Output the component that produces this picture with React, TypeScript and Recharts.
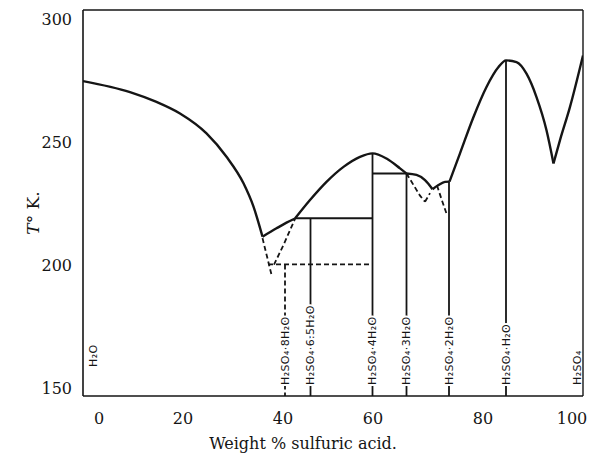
import React from 'react';
import { ComposedChart, Line, XAxis, YAxis, Scatter, ReferenceLine } from 'recharts';

// Axis ticks and domains
const X_TICKS = [0, 20, 40, 60, 80, 100];
const Y_TICKS = [150, 200, 250, 300];
const X_DOMAIN: [number, number] = [0, 100];
const Y_DOMAIN: [number, number] = [147, 304];

// Solid liquidus curves [weight %, T K]
const iceCurve = [[0, 275.1], [9.4, 270.6], [14.7, 266.6], [19.4, 261.9], [24.7, 253.8], [28.7, 244.3], [32.1, 233.5], [34.1, 224.0], [35.9, 211.8]];
const hexaCurve = [[35.9, 211.8], [38.7, 215.2], [40.7, 217.5], [42.4, 219.2]];
const tetraCurve = [[42.4, 219.2], [45.4, 226.7], [48.7, 234.1], [52.1, 240.2], [55.4, 244.3], [57.9, 245.7], [60.7, 243.6], [63.4, 239.6], [64.7, 237.5]];
const triCurve = [[64.7, 237.5], [66.7, 236.9], [68.4, 234.8], [69.9, 231.1]];
const diCurve = [[69.9, 231.1], [71.1, 232.8], [72.4, 234.1], [73.3, 234.2]];
const monoCurve = [[73.3, 234.2], [75.4, 245.7], [78.1, 260.5], [80.7, 272.7], [83.1, 280.8], [84.6, 283.5], [86.7, 282.8], [88.7, 278.1], [90.7, 268.6], [92.7, 255.1], [94.1, 241.6]];
const acidCurve = [[94.1, 241.6], [95.4, 251.1], [97.4, 264.6], [100, 285.5]];

// Solid horizontal (peritectic) lines
const hexaPeritectic = [[42.4, 219.3], [57.9, 219.3]];
const triPeritectic = [[57.9, 237.5], [64.7, 237.5]];

// Compounds: composition, top of vertical line, label
const compoundX = [45.5, 57.9, 64.7, 73.2, 84.6];
const compoundTop = [219.3, 245.7, 237.5, 234.2, 283.5];
const octaX = 40.4;
const octaTop = 200.5;
const compoundLabels = ['H₂SO₄·8H₂O', 'H₂SO₄·6.5H₂O', 'H₂SO₄·4H₂O', 'H₂SO₄·3H₂O', 'H₂SO₄·2H₂O', 'H₂SO₄·H₂O'];
const labelX = [40.4, 45.5, 57.9, 64.7, 73.2, 84.6];
const endLabels = ['H₂O', 'H₂SO₄'];
const endX = [0, 100];

// Dashed (metastable) lines
const iceMeta = [[35.9, 211.2], [37.7, 196.3]];
const octaCurve = [[38.2, 200.4], [40.2, 208.9], [42.4, 219.0]];
const octaHoriz = [[37.0, 200.5], [57.9, 200.5]];
const tetraMeta = [[64.7, 237.5], [66.2, 232.5], [67.4, 228.5], [68.4, 226.0]];
const tetraMetaUp = [[68.4, 226.0], [69.4, 229.5]];
const triMeta = [[70.8, 232.6], [71.8, 226.5], [72.8, 220.6]];

const pts = (a: number[][]) => a.map(([x, y]) => ({ x, y }));
const yMin = Y_DOMAIN[0];

const solidCurves = [iceCurve, hexaCurve, tetraCurve, triCurve, diCurve, monoCurve, acidCurve];
const solidLines = [
  hexaPeritectic,
  triPeritectic,
  ...compoundX.map((x, i) => [[x, compoundTop[i]], [x, yMin]]),
];
const dashedLines = [iceMeta, octaCurve, octaHoriz, [[octaX, octaTop], [octaX, yMin]], tetraMeta, tetraMetaUp, triMeta];

const labelData = labelX.map((x, i) => ({ x, y: yMin, name: compoundLabels[i] }));
const endData = endX.map((x, i) => ({ x, y: yMin, name: endLabels[i] }));

const INK = '#151515';
const X_TICK_NUDGE: Record<number, number> = { 0: 16, 60: -10, 100: -11 };

const XTick = (p: any) => (
  <text x={p.x + (X_TICK_NUDGE[p.payload.value] || 0)} y={p.y} dy={28} textAnchor="middle"
    fontFamily="DejaVu Serif" fontSize={16} fill={INK}>{p.payload.value}</text>
);
const YTick = (p: any) => (
  <text x={p.x - 11} y={p.y} dy="0.35em" textAnchor="end"
    fontFamily="DejaVu Serif" fontSize={16} fill={INK}>{p.payload.value}</text>
);

const CompoundLabel = (p: any) => {
  const { cx, cy, payload } = p;
  const y0 = cy - 11;
  return (
    <text x={cx} y={y0} dy="0.36em" transform={`rotate(-90 ${cx} ${y0})`}
      fontFamily="DejaVu Sans" fontSize={11} letterSpacing={0.4}
      stroke="#fff" strokeWidth={4} paintOrder="stroke" fill={INK}>{payload.name}</text>
  );
};
const END_OFFSET: Record<string, [number, number]> = { 'H₂O': [10, -29], 'H₂SO₄': [-6, -11] };
const EndLabel = (p: any) => {
  const { cx, cy, payload } = p;
  const [dx, dy] = END_OFFSET[payload.name] || [0, 0];
  const x0 = cx + dx;
  const y0 = cy + dy;
  return (
    <text x={x0} y={y0} dy="0.36em" transform={`rotate(-90 ${x0} ${y0})`}
      fontFamily="DejaVu Sans" fontSize={11} letterSpacing={0.4} fill={INK}>{payload.name}</text>
  );
};

export default function App() {
  return (
    <ComposedChart width={588} height={451} margin={{ top: 2, right: 13, bottom: 0, left: 0 }}>
      <XAxis type="number" dataKey="x" domain={X_DOMAIN} ticks={X_TICKS} allowDataOverflow
        tickLine={false} tickSize={0} tickMargin={0} height={63} tick={<XTick />}
        axisLine={{ stroke: INK, strokeWidth: 1.6 }}
        label={{
          content: (lp: any) => {
            const vb = lp.viewBox;
            return (
              <text x={vb.x + vb.width / 2 - 30} y={vb.y + 53} textAnchor="middle"
                fontFamily="DejaVu Serif" fontSize={16} fill={INK}>Weight % sulfuric acid.</text>
            );
          },
        }} />
      <YAxis type="number" dataKey="y" domain={Y_DOMAIN} ticks={Y_TICKS} allowDataOverflow
        tickLine={false} tickSize={0} tickMargin={0} width={75} tick={<YTick />}
        axisLine={{ stroke: INK, strokeWidth: 1.6 }}
        label={{
          content: (lp: any) => {
            const vb = lp.viewBox;
            const cx = vb.x + 25;
            const cy = vb.y + vb.height / 2 + 10;
            return (
              <text x={cx} y={cy} dy="0.35em" textAnchor="middle" transform={`rotate(-90 ${cx} ${cy})`}
                fontFamily="DejaVu Serif" fontSize={17} fill={INK}>
                <tspan fontStyle="italic">T</tspan>° K.
              </text>
            );
          },
        }} />
      <ReferenceLine y={Y_DOMAIN[1]} stroke={INK} strokeWidth={1.4} />
      <ReferenceLine x={X_DOMAIN[1]} stroke={INK} strokeWidth={1.4} />
      {solidLines.map((d, i) => (
        <Line key={'sl' + i} data={pts(d)} dataKey="y" type="linear" stroke={INK} strokeWidth={1.8}
          dot={false} activeDot={false} isAnimationActive={false} />
      ))}
      {dashedLines.map((d, i) => (
        <Line key={'dl' + i} data={pts(d)} dataKey="y" type="linear" stroke={INK} strokeWidth={1.8}
          strokeDasharray="5 3" dot={false} activeDot={false} isAnimationActive={false} />
      ))}
      {solidCurves.map((d, i) => (
        <Line key={'sc' + i} data={pts(d)} dataKey="y" type="monotone" stroke={INK} strokeWidth={2.4}
          dot={false} activeDot={false} isAnimationActive={false} />
      ))}
      <Scatter data={labelData} dataKey="y" shape={<CompoundLabel />} isAnimationActive={false} />
      <Scatter data={endData} dataKey="y" shape={<EndLabel />} isAnimationActive={false} />
    </ComposedChart>
  );
}
